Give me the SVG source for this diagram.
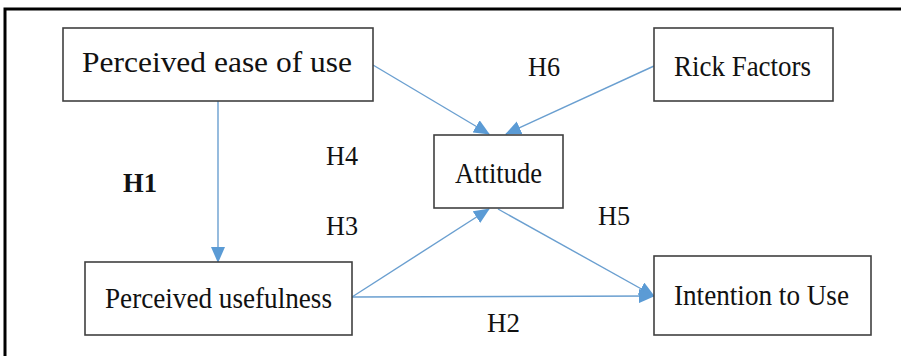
<svg xmlns="http://www.w3.org/2000/svg" width="901" height="356" viewBox="0 0 901 356">
<defs>
<style>
.box{fill:#fff;stroke:#404040;stroke-width:1.6}
text{font-family:'Liberation Serif','DejaVu Serif',serif;fill:#111}
.t{font-size:29px}
.h{font-size:28px}
.c{stroke:#6a9fd0;stroke-width:1.4;fill:none;marker-end:url(#ah)}
</style>
<marker id="ah" viewBox="0 0 16 14" refX="15" refY="7" markerWidth="16" markerHeight="14" markerUnits="userSpaceOnUse" orient="auto">
<path d="M0,0 L16,7 L0,14 Z" fill="#5b9bd5"/>
</marker>
</defs>
<rect width="901" height="356" fill="#fff"/>
<path d="M5,356 V9 H901" fill="none" stroke="#000" stroke-width="3"/>
<g id="connectors">
<line class="c" x1="218" y1="101" x2="218" y2="262"/>
<line class="c" x1="373" y1="65" x2="489" y2="134"/>
<line class="c" x1="654" y1="66" x2="506" y2="134"/>
<line class="c" x1="352" y1="297" x2="489" y2="209"/>
<line class="c" x1="498" y1="209" x2="654" y2="296"/>
<line class="c" x1="352" y1="297" x2="654" y2="296"/>
</g>
<g id="ease">
<rect class="box" x="63" y="28" width="310" height="73"/>
<text class="t" font-family="Liberation Serif, serif" x="82" y="72" font-size="31" textLength="270" lengthAdjust="spacingAndGlyphs">Perceived ease of use</text>
</g>
<g id="risk">
<rect class="box" x="654" y="28" width="179" height="73"/>
<text class="t" font-family="Liberation Serif, serif" x="674" y="76" textLength="137" lengthAdjust="spacingAndGlyphs">Rick Factors</text>
</g>
<g id="attitude">
<rect class="box" x="434" y="135" width="129" height="73"/>
<text class="t" font-family="Liberation Serif, serif" x="455" y="183" textLength="87" lengthAdjust="spacingAndGlyphs">Attitude</text>
</g>
<g id="usefulness">
<rect class="box" x="85" y="262" width="267" height="73"/>
<text class="t" font-family="Liberation Serif, serif" x="105" y="308" textLength="227" lengthAdjust="spacingAndGlyphs">Perceived usefulness</text>
</g>
<g id="intention">
<rect class="box" x="654" y="256" width="217" height="79"/>
<text class="t" font-family="Liberation Serif, serif" x="674" y="305" textLength="175" lengthAdjust="spacingAndGlyphs">Intention to Use</text>
</g>
<g id="labels">
<text class="h" font-family="Liberation Serif, serif" x="123" y="192" font-weight="bold" font-size="29" textLength="34" lengthAdjust="spacingAndGlyphs">H1</text>
<text class="h" font-family="Liberation Serif, serif" x="326" y="235" textLength="32" lengthAdjust="spacingAndGlyphs">H3</text>
<text class="h" font-family="Liberation Serif, serif" x="326" y="165" textLength="32" lengthAdjust="spacingAndGlyphs">H4</text>
<text class="h" font-family="Liberation Serif, serif" x="528" y="76" textLength="32" lengthAdjust="spacingAndGlyphs">H6</text>
<text class="h" font-family="Liberation Serif, serif" x="598" y="225" textLength="32" lengthAdjust="spacingAndGlyphs">H5</text>
<text class="h" font-family="Liberation Serif, serif" x="487" y="332" textLength="33" lengthAdjust="spacingAndGlyphs">H2</text>
</g>
</svg>
